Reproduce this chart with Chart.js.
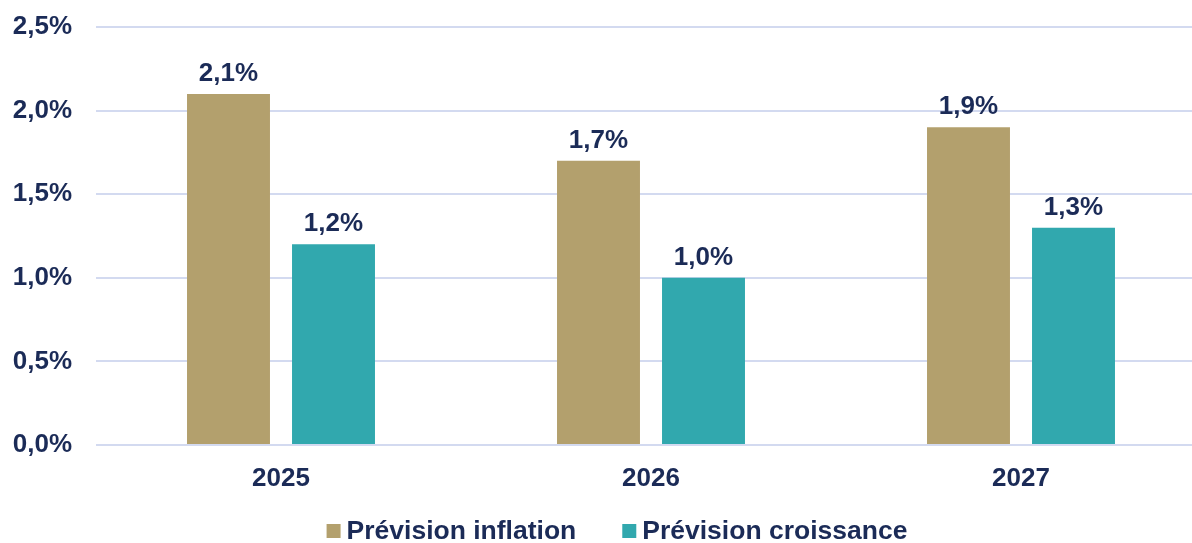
<!DOCTYPE html>
<html lang="fr">
<head>
<meta charset="utf-8">
<title>Prévisions inflation et croissance</title>
<script src="https://cdn.jsdelivr.net/npm/chart.js@4.4.1/dist/chart.umd.min.js"></script>
<style>
    html, body {
        margin: 0;
        padding: 0;
        background: #ffffff;
        overflow: hidden;
    }
    /* plot runs a little past the right edge of the page */
    #chart-wrap {
        position: relative;
        width: 1206px;
        height: 543px;
    }
</style>
</head>
<body>
<div id="chart-wrap">
    <canvas id="chart"></canvas>
</div>
<script>
// ============================================
// DATA
// ============================================
const years = ['2025', '2026', '2027'];
const inflation = [2.1, 1.7, 1.9];
const croissance = [1.2, 1.0, 1.3];
const seriesNames = ['Prévision inflation', 'Prévision croissance'];
const yTicks = [0, 0.5, 1.0, 1.5, 2.0, 2.5];

// Styling
const GOLD = '#b3a06d';
const TEAL = '#31a8ae';
const NAVY = '#1b2b57';
const GRID = '#d3daf0';
const FONT = '"Liberation Sans", Arial, Helvetica, sans-serif';

Chart.defaults.font.family = FONT;
Chart.defaults.color = NAVY;

// French style percentages: 1,5%
function pct(v) {
    return v.toFixed(1).replace('.', ',') + '%';
}

// ============================================
// VALUE LABELS ABOVE BARS
// ============================================
const valueLabels = {
    id: 'valueLabels',
    afterDatasetsDraw(chart) {
        const c = chart.ctx;
        c.save();
        c.font = 'bold 26px ' + FONT;
        c.fillStyle = NAVY;
        c.textAlign = 'center';
        c.textBaseline = 'alphabetic';
        chart.data.datasets.forEach((ds, i) => {
            const meta = chart.getDatasetMeta(i);
            meta.data.forEach((bar, j) => {
                c.fillText(pct(ds.data[j]), bar.x, bar.y - 13);
            });
        });
        c.restore();
    }
};

// ============================================
// LEGEND (square box + label, centred under the plot)
// ============================================
const bottomLegend = {
    id: 'bottomLegend',
    afterDraw(chart) {
        const c = chart.ctx;
        const box = 14;
        const gap = 6;
        const spacing = 46;
        const centerX = 617;
        const centerY = 531;

        c.save();
        c.font = 'bold 26.5px ' + FONT;
        const items = chart.data.datasets.map(ds => ({
            text: ds.label,
            color: ds.backgroundColor,
            w: box + gap + c.measureText(ds.label).width
        }));
        const total = items.reduce((s, it) => s + it.w, 0) + spacing * (items.length - 1);
        let x = centerX - total / 2;
        c.textBaseline = 'middle';
        c.textAlign = 'left';
        items.forEach(it => {
            c.fillStyle = it.color;
            c.fillRect(x, centerY - box / 2, box, box);
            c.fillStyle = NAVY;
            c.fillText(it.text, x + box + gap, centerY + 1);
            x += it.w + spacing;
        });
        c.restore();
    }
};

// ============================================
// CHART
// ============================================
const ctx = document.getElementById('chart');
const chart = new Chart(ctx.getContext('2d'), {
    type: 'bar',
    data: {
        labels: years,
        datasets: [
            {
                label: seriesNames[0],
                data: inflation,
                backgroundColor: GOLD,
                borderWidth: 0,
                categoryPercentage: 0.5676,
                barPercentage: 0.79
            },
            {
                label: seriesNames[1],
                data: croissance,
                backgroundColor: TEAL,
                borderWidth: 0,
                categoryPercentage: 0.5676,
                barPercentage: 0.79
            }
        ]
    },
    options: {
        responsive: true,
        maintainAspectRatio: false,
        animation: false,
        devicePixelRatio: 1,
        layout: {
            padding: { top: 27, right: 0, bottom: 0, left: 0 }
        },
        plugins: {
            legend: { display: false },
            tooltip: { enabled: false }
        },
        scales: {
            x: {
                grid: { display: false, drawTicks: false },
                border: { display: false },
                ticks: {
                    color: NAVY,
                    font: { size: 26, weight: 'bold' },
                    padding: 18
                },
                afterFit(scale) {
                    scale.height = 98;
                    scale.paddingLeft = 0;
                    scale.paddingRight = 0;
                }
            },
            y: {
                min: 0,
                max: 2.5,
                afterBuildTicks(scale) {
                    scale.ticks = yTicks.map(v => ({ value: v }));
                },
                grid: {
                    color: GRID,
                    lineWidth: 2,
                    drawTicks: false
                },
                border: { display: false },
                ticks: {
                    color: NAVY,
                    font: { size: 26, weight: 'bold' },
                    padding: 24,
                    callback: v => pct(v)
                },
                afterFit(scale) {
                    scale.width = 96;
                    scale.paddingTop = 0;
                    scale.paddingBottom = 0;
                }
            }
        }
    },
    plugins: [valueLabels, bottomLegend]
});
</script>
</body>
</html>
